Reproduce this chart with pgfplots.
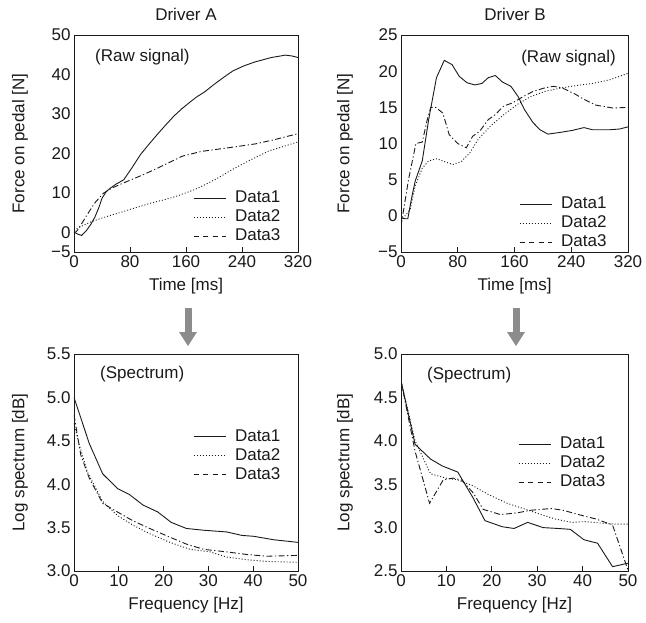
\documentclass[border=0pt]{standalone}
\usepackage{fontspec}
\setmainfont{Liberation Sans}
\usepackage{pgfplots}
\pgfplotsset{compat=1.18}
\newcommand{\fs}{\fontsize{17}{20}\selectfont}
\definecolor{ink}{HTML}{1A1A1A}
\definecolor{arrowgray}{HTML}{8C8C8C}
\pgfplotsset{
  panel/.style={
    scale only axis, height=217pt, anchor=south west,
    axis line style={ink, line width=0.8pt},
    tick align=inside, xtick pos=left, ytick pos=left,
    major tick length=5pt,
    xtick style={ink, line width=0.8pt},
    ytick style={draw=none},
    tick label style={font=\fs, text=ink},
    label style={font=\fs, text=ink},
    xlabel style={at={(axis description cs:0.5,-0.157)}, anchor=center},
    legend style={draw=none, fill=none, font=\fs, text=ink, inner sep=0pt,
      row sep=1pt, column sep=8pt,
      nodes={inner sep=1pt, text height=12.5pt, text depth=3.5pt}},
    legend cell align=left,
    legend image code/.code={\draw[##1] (0pt,0pt) -- (32pt,0pt);},
  },
  d1/.style={ink, line width=0.9pt},
  d2/.style={ink, line width=0.9pt, dash pattern=on 1pt off 2pt},
  d3/.style={ink, line width=0.9pt, dash pattern=on 6pt off 2.5pt on 1.2pt off 2.5pt,
    legend image code/.code={\draw[ink, line width=0.9pt, dash pattern=on 5pt off 4.5pt] (0pt,0pt) -- (32pt,0pt);}},
}
\begin{document}
\begin{tikzpicture}[font=\fs]
\useasboundingbox (0pt,0pt) rectangle (646pt,-622pt);

% ---------------- Driver A raw
\begin{axis}[panel, width=224pt, at={(74pt,-252pt)},
  xmin=0, xmax=320, ymin=-5, ymax=50,
  xtick={0,80,160,240,320}, xticklabels={0,80,160,240,320},
  ytick={-5,0,10,20,30,40,50}, yticklabels={−5,0,10,20,30,40,50},
  xlabel={Time [ms]}, ylabel={Force on pedal [N]},
  ylabel style={at={(axis description cs:-0.241,0.5)}, anchor=center},
  legend style={at={(axis description cs:0.531,0.290)}, anchor=north west}]
\addplot[d1] coordinates {(0,0) (6,-0.5) (11,-0.8) (18,0.5) (24,2) (30,3.9) (36,6.5) (40,8.6) (46,10.3) (52,11.2) (60,12.2) (71,13.3) (83,16.4) (95,19.7) (107,22.3) (119,24.8) (131,27.2) (143,29.5) (154,31.3) (165,32.9) (176,34.4) (186,35.5) (201,37.6) (214,39.3) (227,40.9) (243,42.2) (259,43.2) (282,44.3) (302,44.9) (311,44.7) (320,44.3)};
\addlegendentry{Data1}
\addplot[d2] coordinates {(0,0.5) (9,1.4) (25,2.7) (45,3.9) (62,4.8) (86,6.1) (110,7.4) (130,8.3) (146,9.1) (160,10) (172,10.8) (190,12.3) (206,13.8) (225,15.8) (244,17.6) (262,19.2) (278,20.6) (300,21.8) (320,22.9)};
\addlegendentry{Data2}
\addplot[d3] coordinates {(0,-0.3) (5,0.5) (12,2.5) (20,4.8) (30,7.5) (42,9.9) (54,11.2) (76,12.9) (95,14.3) (114,15.8) (135,17.6) (155,19.3) (182,20.5) (220,21.4) (259,22.4) (287,23.5) (320,25.0)};
\addlegendentry{Data3}
\end{axis}

% ---------------- Driver B raw
\begin{axis}[panel, width=227pt, at={(401pt,-252pt)},
  xmin=0, xmax=320, ymin=-5, ymax=25,
  xtick={0,80,160,240,320}, xticklabels={0,80,160,240,320},
  ytick={-5,0,5,10,15,20,25}, yticklabels={−5,0,5,10,15,20,25},
  xlabel={Time [ms]}, ylabel={Force on pedal [N]},
  ylabel style={at={(axis description cs:-0.247,0.5)}, anchor=center},
  legend style={at={(axis description cs:0.52,0.263)}, anchor=north west}]
\addplot[d1] coordinates {(0,-0.3) (6,-0.4) (9.6,-0.4) (15,2.5) (20,4.8) (30,7.6) (39,13.3) (50,19.1) (61,21.5) (72,20.9) (82,19.3) (93,18.4) (104,18.1) (114,18.3) (123,19.1) (133,19.4) (143,18.5) (155,17.9) (165,16.5) (174,14.7) (186,12.9) (196,11.9) (207,11.3) (222,11.5) (241,11.8) (258,12.2) (270,11.9) (294,11.9) (308,12.0) (320,12.3)};
\addlegendentry{Data1}
\addplot[d2] coordinates {(0,-0.7) (13,0.9) (20,4.1) (30,6.6) (39,7.6) (51,7.9) (61,7.5) (73,7.1) (85,7.5) (97,8.7) (109,10.6) (126,12.4) (145,14.0) (164,15.4) (183,16.5) (203,17.2) (227,17.7) (246,18.0) (270,18.3) (294,18.8) (320,19.7)};
\addlegendentry{Data2}
\addplot[d3] coordinates {(0,-1.4) (10.6,5.0) (21,10.0) (30,10.2) (37,13.3) (42,15.0) (49,15.0) (59,14.2) (68,11.2) (80,10.0) (92,9.4) (101,11.0) (111,11.7) (123,13.3) (133,14.0) (145,15.2) (157,15.6) (169,16.3) (186,17.2) (203,17.7) (215,17.9) (227,17.7) (246,16.8) (258,16.1) (275,15.3) (299,14.9) (320,15.0)};
\addlegendentry{Data3}
\end{axis}

% ---------------- Driver A spectrum
\begin{axis}[panel, width=224pt, at={(74pt,-571pt)},
  xmin=0, xmax=50, ymin=3, ymax=5.5,
  xtick={0,10,20,30,40,50}, xticklabels={0,10,20,30,40,50},
  ytick={3,3.5,4,4.5,5,5.5}, yticklabels={3.0,3.5,4.0,4.5,5.0,5.5},
  xlabel={Frequency [Hz]}, ylabel={Log spectrum [dB]},
  ylabel style={at={(axis description cs:-0.241,0.5)}, anchor=center},
  legend style={at={(axis description cs:0.531,0.661)}, anchor=north west}]
\addplot[d1] coordinates {(0,5.0) (3.4,4.47) (6.4,4.12) (9.7,3.95) (12.4,3.88) (15.4,3.76) (18.7,3.68) (21.7,3.56) (25.1,3.49) (28.9,3.47) (34.1,3.45) (37.5,3.41) (40.1,3.40) (44.6,3.36) (50,3.33)};
\addlegendentry{Data1}
\addplot[d2] coordinates {(0,4.70) (1.1,4.47) (3,4.14) (6.4,3.80) (9.7,3.64) (13.1,3.53) (16.9,3.43) (21.4,3.33) (25.9,3.25) (30.4,3.22) (34.1,3.16) (38.6,3.13) (43.1,3.11) (50,3.10)};
\addlegendentry{Data2}
\addplot[d3] coordinates {(0,4.8) (1.5,4.34) (3.4,4.07) (6.4,3.78) (9.7,3.68) (13.1,3.58) (16.9,3.49) (21.4,3.39) (25.1,3.31) (28.9,3.25) (34.1,3.22) (38.6,3.19) (43.1,3.17) (50,3.18)};
\addlegendentry{Data3}
\end{axis}

% ---------------- Driver B spectrum
\begin{axis}[panel, width=227pt, at={(401pt,-571pt)},
  xmin=0, xmax=50, ymin=2.5, ymax=5,
  xtick={0,10,20,30,40,50}, xticklabels={0,10,20,30,40,50},
  ytick={2.5,3,3.5,4,4.5,5}, yticklabels={2.5,3.0,3.5,4.0,4.5,5.0},
  xlabel={Frequency [Hz]}, ylabel={Log spectrum [dB]},
  ylabel style={at={(axis description cs:-0.247,0.5)}, anchor=center},
  legend style={at={(axis description cs:0.515,0.627)}, anchor=north west}]
\addplot[d1] coordinates {(0,4.69) (3.1,3.96) (6.5,3.79) (9.1,3.71) (12.5,3.64) (15.9,3.34) (18.5,3.08) (22.3,3.01) (24.9,2.99) (27.9,3.06) (31.3,3.00) (34.6,2.99) (37.3,2.98) (40.3,2.86) (43.3,2.82) (46.6,2.55) (50,2.59)};
\addlegendentry{Data1}
\addplot[d2] coordinates {(0,4.69) (3.1,4.0) (6.5,3.62) (9.9,3.57) (12.5,3.55) (15.9,3.48) (19.3,3.38) (23.4,3.28) (27.5,3.21) (30.9,3.15) (33.9,3.10) (37.6,3.06) (40.6,3.07) (44.4,3.05) (47.4,3.04) (50,3.04)};
\addlegendentry{Data2}
\addplot[d3] coordinates {(0,4.69) (3.1,3.88) (6.3,3.28) (9.3,3.55) (11.4,3.57) (13.3,3.55) (15.9,3.40) (18.1,3.21) (21.9,3.15) (25.6,3.17) (28.6,3.20) (33.1,3.22) (35.7,3.20) (39.1,3.15) (42.9,3.10) (46.6,3.03) (50,2.51)};
\addlegendentry{Data3}
\end{axis}

% ---------------- annotations
\node[text=ink] at (186pt,-14pt) {Driver A};
\node[text=ink] at (515pt,-14pt) {Driver B};
\node[text=ink, anchor=west, inner sep=0pt] at (95pt,-57pt) {(Raw signal)};
\node[text=ink, anchor=east, inner sep=0pt] at (616pt,-58pt) {(Raw signal)};
\node[text=ink, anchor=west, inner sep=0pt] at (100pt,-374pt) {(Spectrum)};
\node[text=ink, anchor=west, inner sep=0pt] at (427pt,-375pt) {(Spectrum)};

\foreach \ax in {188,516} {
  \fill[arrowgray] (\ax pt-3.5pt,-308pt) rectangle (\ax pt+3.5pt,-332pt);
  \fill[arrowgray] (\ax pt-9pt,-332pt) -- (\ax pt+9pt,-332pt) -- (\ax pt,-346pt) -- cycle;
}
\end{tikzpicture}
\end{document}
